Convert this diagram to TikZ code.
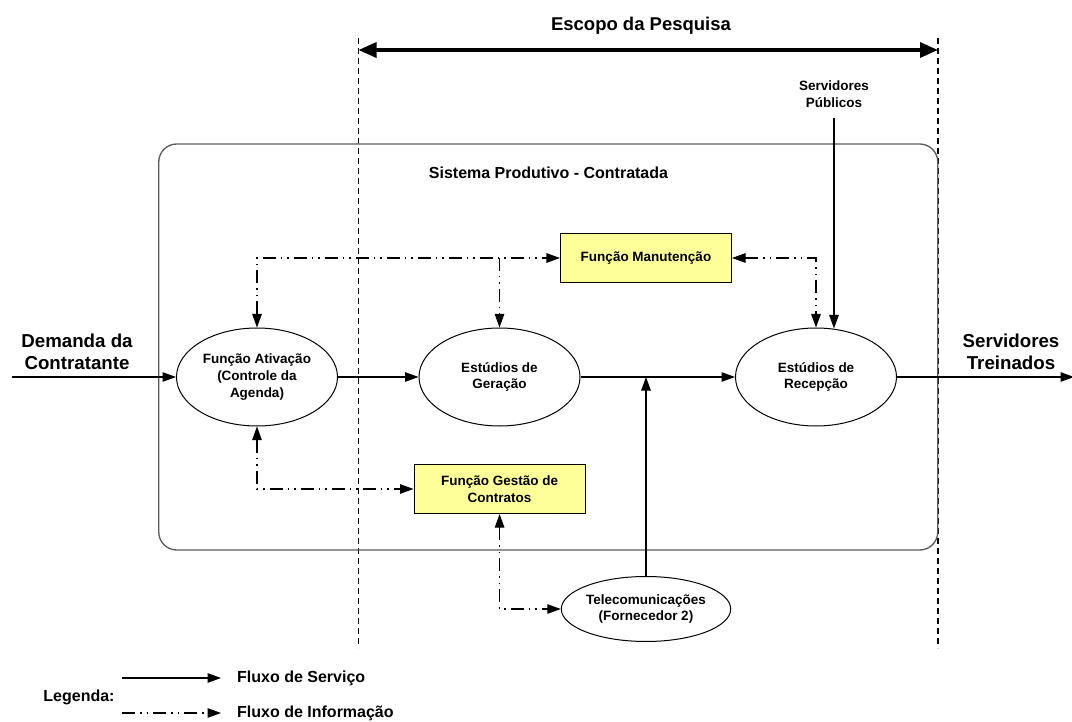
\documentclass[tikz,border=0pt]{standalone}
\usepackage{fontspec}
\setmainfont{Liberation Sans}
\usetikzlibrary{arrows.meta,shapes.geometric}
\definecolor{boxyellow}{HTML}{FFFF99}
\begin{document}
\begin{tikzpicture}[x=1pt,y=-1pt,
  >={Triangle[length=13.5pt,width=9.5pt]},
  every node/.style={font=\bfseries, inner sep=0pt},
  txtsmall/.style={font=\bfseries\fontsize{13.5}{16.7}\selectfont, align=center},
  txtbig/.style={font=\bfseries\fontsize{18.7}{22.5}\selectfont, align=center},
  txtmid/.style={font=\bfseries\fontsize{16}{19}\selectfont},
  proc/.style={ellipse, draw, line width=1pt, minimum width=161pt, minimum height=98pt, txtsmall},
  func/.style={rectangle, draw, line width=1.1pt, fill=boxyellow, minimum width=171pt, minimum height=49pt, txtsmall},
  svc/.style={line width=1.1pt, ->},
  info/.style={line width=1.1pt, dash pattern=on 13pt off 5pt on 1.5pt off 5pt on 1.5pt off 5pt},
  scopeline/.style={line width=1.4pt, dash pattern=on 6pt off 4pt}
]
\useasboundingbox (0,0) rectangle (1072,722);

% scope limits of the research
\coordinate (sLt) at (358.5,38);
\coordinate (sLb) at (358.5,648);
\coordinate (sRt) at (938,38);
\coordinate (sRb) at (938,648);
\draw[scopeline] (sLt) -- (sLb);
\draw[scopeline] (sRt) -- (sRb);
\coordinate (aL) at (358.5,50);
\coordinate (aR) at (938,50);
\draw[line width=3.5pt, {Triangle[length=18pt,width=15pt]}-{Triangle[length=18pt,width=15pt]}] (aL) -- (aR);
\node[font=\bfseries\fontsize{18.5}{22}\selectfont] (escopo) at (641,26) {Escopo da Pesquisa};

% production system boundary
\node[draw=black!65, line width=1.3pt, rounded corners=18pt, minimum width=779pt, minimum height=406pt] (sys) at (548.25,347) {};
\node[txtmid] (systitle) at (548.5,173) {Sistema Produtivo - Contratada};

% processes and functions
\node[proc] (ativ) at (257,377) {Função Ativação\\(Controle da\\Agenda)};
\node[proc] (ger) at (499.5,377) {Estúdios de\\Geração};
\node[proc] (rec) at (816,377) {Estúdios de\\Recepção};
\node[proc, minimum width=152pt, minimum height=65pt] (tel) at (646,609) {Telecomunicações\\(Fornecedor 2)};
\node[func] (man) at (646,258) {Função Manutenção};
\node[func] (ges) at (499.6,489) {Função Gestão de\\Contratos};

% external inputs and outputs
\node[txtbig] (dem) at (77,352) {Demanda da\\Contratante};
\node[txtbig] (trein) at (1011,352) {Servidores\\Treinados};
\node[txtsmall] (pub) at (834,94) {Servidores\\Públicos};
\coordinate (demIn) at (12,377);
\coordinate (outEnd) at (1074,377);
\coordinate (pubTop) at (834,118);
\coordinate (pubBot) at (834,328.5);

% service flow
\draw[svc] (demIn) -- (ativ.west);
\draw[svc] (ativ.east) -- (ger.west);
\draw[svc] (ger.east) -- (rec.west);
\draw[svc] (rec.east) -- (outEnd);
\draw[svc] (tel.north) -- (tel.north |- ger.east);
\draw[svc] (pubTop) -- (pubBot);

% information flow
\draw[info, <->] (ativ.north) |- (man.west);
\draw[info, ->] (ger.north |- man.west) -- (ger.north);
\draw[info, <->] (man.east) -| (rec.north);
\draw[info, <->] (ativ.south) |- (ges.west);
\draw[info, <->] (ges.south) |- (tel.west);

% legend
\node[txtmid] (leg) at (79,697) {Legenda:};
\coordinate (l1a) at (122,678);
\coordinate (l1b) at (221,678);
\coordinate (l2a) at (122,713);
\coordinate (l2b) at (221,713);
\draw[svc] (l1a) -- (l1b);
\draw[info, ->] (l2a) -- (l2b);
\node[txtmid, anchor=west] (lsvc) at (237,678) {Fluxo de Serviço};
\node[txtmid, anchor=west] (linfo) at (237,713) {Fluxo de Informação};
\end{tikzpicture}
\end{document}
